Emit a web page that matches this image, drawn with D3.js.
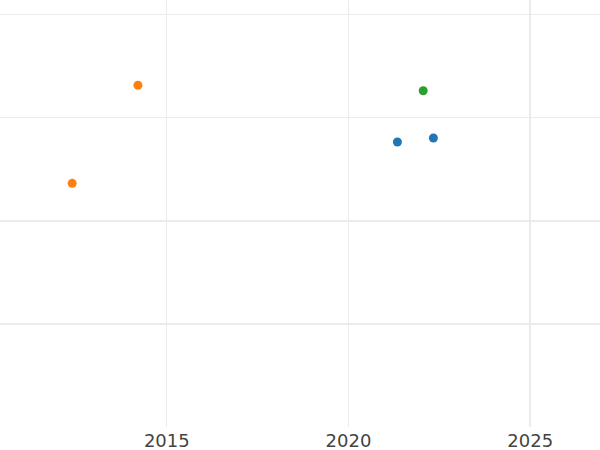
<!DOCTYPE html>
<html>
<head>
<meta charset="utf-8">
<script src="https://cdn.jsdelivr.net/npm/d3@7"></script>
<style>
  html, body { margin: 0; padding: 0; background: #fff; }
  svg { display: block; }
</style>
</head>
<body>
<svg id="chart" width="600" height="450"></svg>
<script>
// Data
const xTicks = [2015, 2020, 2025];
const yGrid = [10, 20, 30, 40];
const seriesNames = ["blue", "orange", "green"];
const seriesColors = ["#1f77b4", "#ff7f0e", "#2ca02c"];
const blueYears = [2021.36, 2022.35];
const blueValues = [27.57, 27.96];
const orangeYears = [2014.22, 2012.41];
const orangeValues = [33.08, 23.56];
const greenYears = [2022.07];
const greenValues = [32.55];

const W = 600, H = 450;
const plotBottom = 427;
const svg = d3.select("#chart");

const x = d3.scaleLinear().domain([2010.424, 2026.935]).range([0, W]);
const y = d3.scaleLinear().domain([0, 41.36]).range([426, 0]);

// horizontal grid (lower lines render 2px wide in the reference)
svg.append("g").selectAll("line").data(yGrid).join("line")
  .attr("x1", 0).attr("x2", W)
  .attr("y1", d => d <= 20 ? Math.round(y(d)) + 1 : Math.round(y(d)) + 0.5)
  .attr("y2", d => d <= 20 ? Math.round(y(d)) + 1 : Math.round(y(d)) + 0.5)
  .attr("stroke", "#ebebeb")
  .attr("stroke-width", d => d <= 20 ? 2 : 1)
  .attr("shape-rendering", "crispEdges");

// vertical grid
svg.append("g").selectAll("line").data(xTicks).join("line")
  .attr("x1", d => d === 2025 ? Math.round(x(d)) : Math.round(x(d)) + 0.5)
  .attr("x2", d => d === 2025 ? Math.round(x(d)) : Math.round(x(d)) + 0.5)
  .attr("y1", 0).attr("y2", plotBottom)
  .attr("stroke", "#ebebeb")
  .attr("stroke-width", d => d === 2025 ? 2 : 1)
  .attr("shape-rendering", "crispEdges");

// x axis labels
const xAxis = d3.axisBottom(x).tickValues(xTicks).tickFormat(d3.format("d")).tickSize(0).tickPadding(0);
const gx = svg.append("g").attr("transform", `translate(0,${plotBottom})`).call(xAxis);
gx.select(".domain").remove();
gx.selectAll("text")
  .attr("y", 20).attr("dy", 0)
  .attr("fill", "#444")
  .style("font-family", "DejaVu Sans, sans-serif")
  .style("font-size", "18px");

// points
const series = [
  {name: "blue", xs: blueYears, ys: blueValues},
  {name: "orange", xs: orangeYears, ys: orangeValues},
  {name: "green", xs: greenYears, ys: greenValues}
];
const color = d3.scaleOrdinal().domain(seriesNames).range(seriesColors);
series.forEach(s => {
  svg.append("g").selectAll("circle").data(s.xs.map((v, i) => [v, s.ys[i]])).join("circle")
    .attr("cx", d => x(d[0])).attr("cy", d => y(d[1]))
    .attr("r", 4.5).attr("fill", color(s.name));
});
</script>
</body>
</html>
